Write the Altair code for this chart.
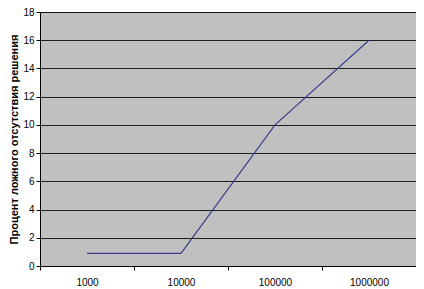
import altair as alt
import pandas as pd

categories = ["1000", "10000", "100000", "1000000"]
values = [0.9, 0.9, 10, 16]
y_ticks = [0, 2, 4, 6, 8, 10, 12, 14, 16, 18]

df = pd.DataFrame({"n": categories, "v": values})

chart = alt.Chart(df).mark_line(color="#3c3c8c", strokeWidth=1.2).encode(
    x=alt.X("n:N", sort=categories, title=None,
            scale=alt.Scale(paddingInner=0, paddingOuter=0),
            axis=alt.Axis(labelAngle=0, tickBand="extent", grid=False,
                          domainColor="#000000", tickColor="#000000",
                          tickSize=4, labelPadding=7, labelFontSize=10,
                          labelFont="Liberation Sans", labelColor="#000000")),
    y=alt.Y("v:Q", title="Процент ложного отсутствия решения",
            scale=alt.Scale(domain=[0, 18], nice=False),
            axis=alt.Axis(values=y_ticks, grid=True, gridColor="#000000",
                          gridOpacity=0.85, gridWidth=1,
                          domainColor="#000000", tickColor="#000000",
                          tickSize=4, labelPadding=2, labelFontSize=10,
                          labelFont="Liberation Sans", labelColor="#000000",
                          titleFont="Liberation Sans", titleFontSize=11,
                          titleFontWeight="bold", titleColor="#000000",
                          titlePadding=3)),
).properties(
    width=376, height=254,
    autosize=alt.AutoSizeParams(type="none"),
    padding={"left": 32, "top": 4, "right": 0, "bottom": 23},
    background="#ffffff",
).configure_view(
    fill="#c0c0c0", stroke="#808080", strokeWidth=1,
)

chart.save("out.html", embed_options={"renderer": "svg", "actions": False})
